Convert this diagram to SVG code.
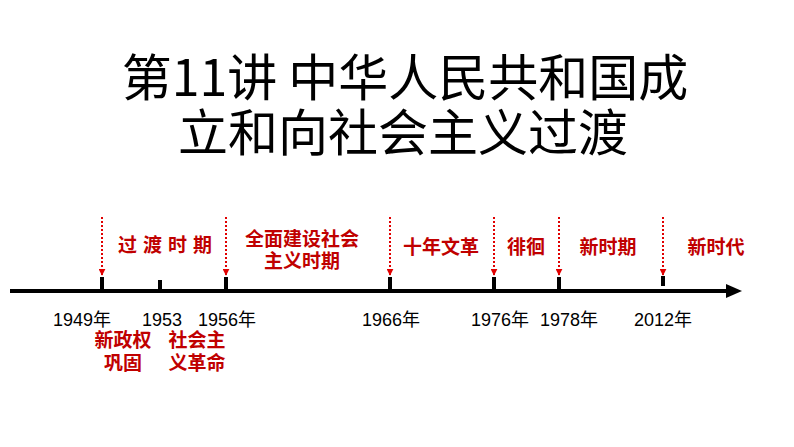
<svg xmlns="http://www.w3.org/2000/svg" width="794" height="447" viewBox="0 0 794 447">
<defs>
<marker id="ah" viewBox="0 0 10 10" refX="9" refY="5" markerWidth="7" markerHeight="7" orient="auto" markerUnits="userSpaceOnUse">
<path d="M0,0 L10,5 L0,10 Z" fill="#e00000"/>
</marker>
<style>
.title{font-family:"Noto Sans CJK SC","Noto Sans",sans-serif;font-size:50px;fill:#000;text-anchor:middle}
.red{font-family:"Noto Sans CJK SC","Noto Sans",sans-serif;font-size:19px;font-weight:bold;fill:#c00000;text-anchor:middle}
.yr{font-family:"Liberation Sans","Noto Sans CJK SC",sans-serif;font-size:18px;fill:#000;text-anchor:middle}
.dash{stroke:#e00000;stroke-width:2;stroke-dasharray:2 2;fill:none}
.tick{stroke:#000;stroke-width:4}
</style>
</defs>
<rect width="794" height="447" fill="#fff"/>
<g id="title">
<text class="title" x="405" y="96">第11讲 中华人民共和国成</text>
<text class="title" x="403" y="151">立和向社会主义过渡</text>
</g>
<g id="connectors">
<line x1="10" y1="291" x2="730" y2="291" stroke="#000" stroke-width="4"/>
<path d="M726,284 L742,291 L726,298 Z" fill="#000"/>
<line class="tick" x1="102" y1="277" x2="102" y2="291"/>
<line class="tick" x1="160" y1="280" x2="160" y2="291"/>
<line class="tick" x1="226" y1="277" x2="226" y2="291"/>
<line class="tick" x1="390" y1="277" x2="390" y2="291"/>
<line class="tick" x1="494" y1="277" x2="494" y2="291"/>
<line class="tick" x1="559" y1="277" x2="559" y2="291"/>
<line class="tick" x1="663" y1="276" x2="663" y2="286"/>
<line class="dash" x1="102" y1="217" x2="102" y2="275" marker-end="url(#ah)"/>
<line class="dash" x1="226" y1="217" x2="226" y2="275" marker-end="url(#ah)"/>
<line class="dash" x1="390" y1="217" x2="390" y2="275" marker-end="url(#ah)"/>
<line class="dash" x1="494" y1="217" x2="494" y2="275" marker-end="url(#ah)"/>
<line class="dash" x1="559" y1="217" x2="559" y2="275" marker-end="url(#ah)"/>
<line class="dash" x1="663" y1="217" x2="663" y2="275" marker-end="url(#ah)"/>
</g>
<g id="periods">
<text class="red" x="168" y="252" letter-spacing="6">过渡时期</text>
<text class="red" x="302" y="246">全面建设社会</text>
<text class="red" x="302" y="268">主义时期</text>
<text class="red" x="441" y="254">十年文革</text>
<text class="red" x="526" y="254">徘徊</text>
<text class="red" x="608" y="254">新时期</text>
<text class="red" x="716" y="254">新时代</text>
</g>
<g id="years">
<text class="yr" x="82" y="326">1949年</text>
<text class="yr" x="162" y="326">1953</text>
<text class="yr" x="227" y="326">1956年</text>
<text class="yr" x="391" y="326">1966年</text>
<text class="yr" x="500" y="326">1976年</text>
<text class="yr" x="569" y="326">1978年</text>
<text class="yr" x="663" y="326">2012年</text>
</g>
<g id="events">
<text class="red" x="123" y="347">新政权</text>
<text class="red" x="123" y="370">巩固</text>
<text class="red" x="197" y="347">社会主</text>
<text class="red" x="197" y="370">义革命</text>
</g>
</svg>
